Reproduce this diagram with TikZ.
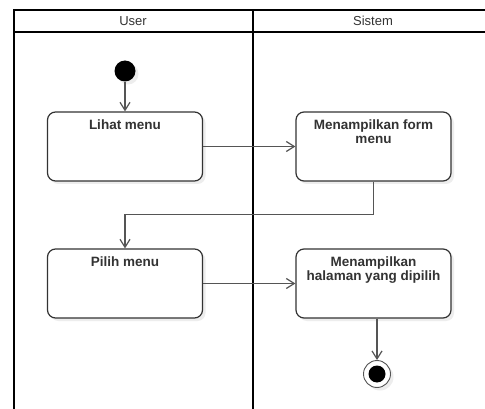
\documentclass[tikz,border=0pt]{standalone}
\usepackage{fontspec}
\setmainfont{Liberation Sans}
\usetikzlibrary{arrows.meta,shadows}
\definecolor{inkgray}{HTML}{333333}
\definecolor{wiregray}{HTML}{555555}
\begin{document}
\begin{tikzpicture}[x=1pt,y=-1pt,
  lane/.style={line width=2pt,black},
  headtext/.style={font=\fontsize{13}{15}\selectfont,text=inkgray},
  boxtext/.style={anchor=north,inner sep=0pt,yshift=-8.5pt,align=center,
    font=\fontsize{13.5}{14}\selectfont\bfseries,text=inkgray},
  act/.style={draw=inkgray,line width=1.2pt,fill=white,rounded corners=8pt,
    minimum width=155pt,minimum height=69pt,
    drop shadow={shadow xshift=3pt,shadow yshift=-3pt,fill=black!7,opacity=1},
    label={[boxtext]north:{#1}}},
  startdot/.style={circle,fill=black,minimum size=21pt,inner sep=0pt,
    drop shadow={shadow xshift=3pt,shadow yshift=-3pt,fill=black!7,opacity=1}},
  endring/.style={circle,draw=wiregray,line width=0.9pt,fill=white,minimum size=27pt,inner sep=0pt,
    drop shadow={shadow xshift=3pt,shadow yshift=-3pt,fill=black!7,opacity=1}},
  flow/.style={draw=wiregray,line width=1.2pt,-{Straight Barb[length=8pt,width=10pt,line width=1.2pt]}}
]
\useasboundingbox (0,0) rectangle (485,409);
\fill[white] (0,0) rectangle (485,409);

% swimlane frame
\draw[lane] (13.5,409.5) -- (13.5,10) -- (486,10);
\draw[lane] (13.5,32.3) -- (486,32.3);
\draw[lane] (252.5,10) -- (252.5,409.5);
\node[headtext] (userlbl) at (133,21) {User};
\node[headtext] (sistemlbl) at (373,21) {Sistem};

% activities
\node[startdot] (start) at (125,71) {};
\node[act={Lihat menu}] (lihat) at (125,146.5) {};
\node[act={Menampilkan form\\menu}] (form) at (373.5,146.5) {};
\node[act={Pilih menu}] (pilih) at (125,283.5) {};
\node[act={Menampilkan\\halaman yang dipilih}] (halaman) at (373.5,283.5) {};
\node[endring] (end) at (377,374) {};
\fill[black] (end.center) circle (8.5pt);

% control flow
\draw[flow] (start) -- (lihat.north);
\draw[flow] (lihat.east) -- (form.west);
\draw[flow] (form.south) -- ++(0,33) -| (pilih.north);
\draw[flow] (pilih.east) -- (halaman.west);
\draw[flow] (end |- halaman.south) -- (end.north);
\end{tikzpicture}
\end{document}
